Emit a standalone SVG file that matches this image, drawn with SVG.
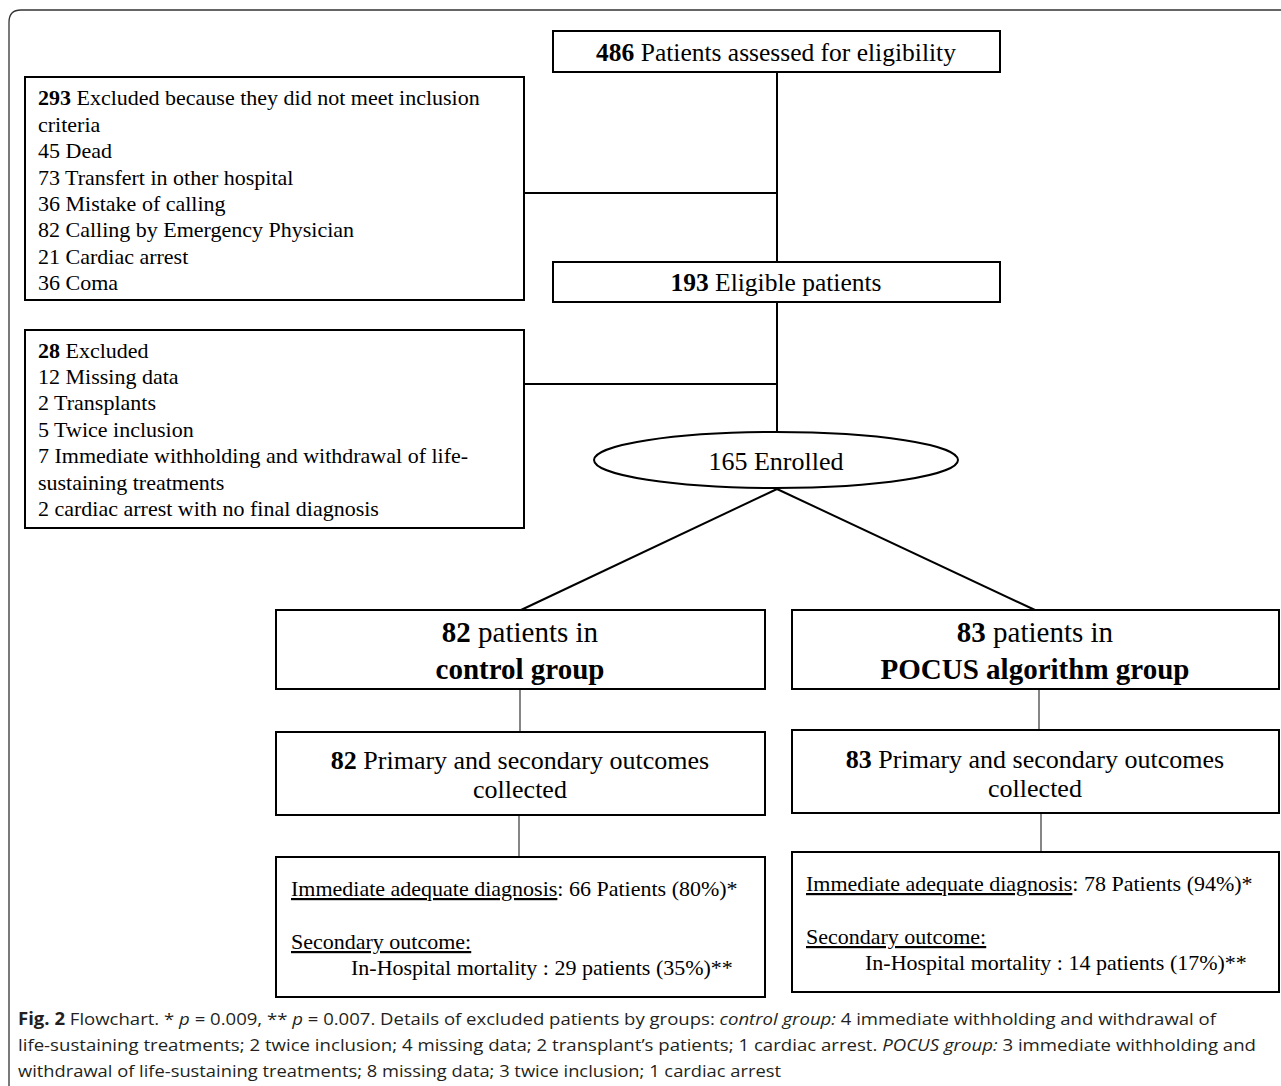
<svg xmlns="http://www.w3.org/2000/svg" width="1281" height="1086" viewBox="0 0 1281 1086">
<style>
.box{fill:#fff;stroke:#000;stroke-width:2}
.t{font-family:"Liberation Serif","Times New Roman",serif;fill:#000}
.s22{font-size:22px}
.s25{font-size:25.5px}
.s26{font-size:26px}
.s29{font-size:29px}
.b{font-weight:bold}
.c{text-anchor:middle}
.u{text-decoration:underline}
.cap{font-family:"Open Sans","Noto Sans",sans-serif;font-size:17px;fill:#231f20}
.ln{stroke:#000;stroke-width:2;fill:none}
.thin{stroke:#444;stroke-width:1.3;fill:none}
</style>
<rect width="1281" height="1086" fill="#fff"/>
<path d="M9,1086 L9,22 Q9,10 21,10 L1281,10" fill="none" stroke="#333" stroke-width="1.3"/>
<g id="connectors">
<line class="ln" x1="777" y1="72" x2="777" y2="262"/>
<line class="ln" x1="524" y1="193" x2="777" y2="193"/>
<line class="ln" x1="777" y1="302" x2="777" y2="432"/>
<line class="ln" x1="524" y1="384" x2="777" y2="384"/>
<line class="ln" x1="777" y1="489" x2="521" y2="610"/>
<line class="ln" x1="777" y1="489" x2="1035" y2="610"/>
<line class="thin" x1="520" y1="689" x2="520" y2="732"/>
<line class="thin" x1="519" y1="815" x2="519" y2="857"/>
<line class="thin" x1="1039" y1="689" x2="1039" y2="730"/>
<line class="thin" x1="1041" y1="813" x2="1041" y2="852"/>
</g>
<g id="assessed">
<rect class="box" x="553" y="31" width="447" height="41"/>
<text class="t s25 c" x="776" y="61"><tspan class="b">486</tspan> Patients assessed for eligibility</text>
</g>
<g id="excluded1">
<rect class="box" x="25" y="77" width="499" height="223"/>
<text class="t s22" x="38" y="105"><tspan class="b">293</tspan> Excluded because they did not meet inclusion</text>
<text class="t s22" x="38" y="132">criteria</text>
<text class="t s22" x="38" y="158">45 Dead</text>
<text class="t s22" x="38" y="185">73 Transfert in other hospital</text>
<text class="t s22" x="38" y="211">36 Mistake of calling</text>
<text class="t s22" x="38" y="237">82 Calling by Emergency Physician</text>
<text class="t s22" x="38" y="264">21 Cardiac arrest</text>
<text class="t s22" x="38" y="290">36 Coma</text>
</g>
<g id="eligible">
<rect class="box" x="553" y="262" width="447" height="40"/>
<text class="t s25 c" x="776" y="291"><tspan class="b">193</tspan> Eligible patients</text>
</g>
<g id="excluded2">
<rect class="box" x="25" y="330" width="499" height="198"/>
<text class="t s22" x="38" y="358"><tspan class="b">28</tspan> Excluded</text>
<text class="t s22" x="38" y="384">12 Missing data</text>
<text class="t s22" x="38" y="410">2 Transplants</text>
<text class="t s22" x="38" y="437">5 Twice inclusion</text>
<text class="t s22" x="38" y="463">7 Immediate withholding and withdrawal of life-</text>
<text class="t s22" x="38" y="490">sustaining treatments</text>
<text class="t s22" x="38" y="516">2 cardiac arrest with no final diagnosis</text>
</g>
<g id="enrolled">
<ellipse cx="776" cy="460" rx="182" ry="28" fill="#fff" stroke="#000" stroke-width="2"/>
<text class="t s26 c" x="776" y="470">165 Enrolled</text>
</g>
<g id="control">
<rect class="box" x="276" y="610" width="489" height="79"/>
<text class="t s29 c" x="520" y="642"><tspan class="b">82</tspan> patients in</text>
<text class="t s29 c b" x="520" y="679">control group</text>
</g>
<g id="pocus">
<rect class="box" x="792" y="610" width="487" height="79"/>
<text class="t s29 c" x="1035" y="642"><tspan class="b">83</tspan> patients in</text>
<text class="t s29 c b" x="1035" y="679">POCUS algorithm group</text>
</g>
<g id="control-outcomes">
<rect class="box" x="276" y="732" width="489" height="83"/>
<text class="t s26 c" x="520" y="769"><tspan class="b">82</tspan> Primary and secondary outcomes</text>
<text class="t s26 c" x="520" y="798">collected</text>
</g>
<g id="pocus-outcomes">
<rect class="box" x="792" y="730" width="487" height="83"/>
<text class="t s26 c" x="1035" y="768"><tspan class="b">83</tspan> Primary and secondary outcomes</text>
<text class="t s26 c" x="1035" y="797">collected</text>
</g>
<g id="control-results">
<rect class="box" x="276" y="857" width="489" height="140"/>
<text class="t s22" x="291" y="896"><tspan class="u">Immediate adequate diagnosis</tspan>: 66 Patients (80%)*</text>
<text class="t s22 u" x="291" y="949">Secondary outcome:</text>
<text class="t s22" x="351" y="975">In-Hospital mortality : 29 patients (35%)**</text>
</g>
<g id="pocus-results">
<rect class="box" x="792" y="852" width="487" height="140"/>
<text class="t s22" x="806" y="891"><tspan class="u">Immediate adequate diagnosis</tspan>: 78 Patients (94%)*</text>
<text class="t s22 u" x="806" y="944">Secondary outcome:</text>
<text class="t s22" x="865" y="970">In-Hospital mortality : 14 patients (17%)**</text>
</g>
<g id="caption">
<text class="cap" x="18" y="1025" textLength="1198" lengthAdjust="spacingAndGlyphs"><tspan font-weight="bold">Fig. 2</tspan>  Flowchart. * <tspan font-style="italic">p</tspan> = 0.009, ** <tspan font-style="italic">p</tspan> = 0.007. Details of excluded patients by groups: <tspan font-style="italic">control group:</tspan> 4 immediate withholding and withdrawal of</text>
<text class="cap" x="18" y="1051" textLength="1238" lengthAdjust="spacingAndGlyphs">life-sustaining treatments; 2 twice inclusion; 4 missing data; 2 transplant’s patients; 1 cardiac arrest. <tspan font-style="italic">POCUS group:</tspan> 3 immediate withholding and</text>
<text class="cap" x="18" y="1077" textLength="763" lengthAdjust="spacingAndGlyphs">withdrawal of life-sustaining treatments; 8 missing data; 3 twice inclusion; 1 cardiac arrest</text>
</g>
</svg>
